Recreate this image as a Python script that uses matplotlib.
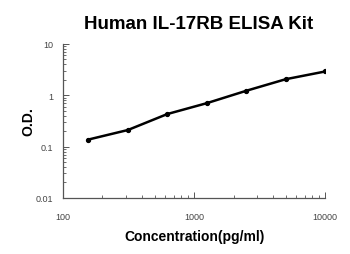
import matplotlib
matplotlib.use('Agg')
import matplotlib.pyplot as plt
from matplotlib.ticker import LogLocator, NullFormatter, FixedLocator

# standard curve values
conc = [156.25, 312.5, 625, 1250, 2500, 5000, 10000]
od = [0.137, 0.21, 0.43, 0.70, 1.22, 2.05, 2.9]

x_ticks = [100, 1000, 10000]
x_tick_labels = ['100', '1000', '10000']
y_ticks = [0.01, 0.1, 1, 10]
y_tick_labels = ['0.01', '0.1', '1', '10']

plt.rcParams['font.family'] = ['Liberation Sans', 'DejaVu Sans']

fig = plt.figure(figsize=(3.5, 2.55), dpi=100)
ax = fig.add_axes([0.18, 0.22, 0.749, 0.604])

ax.plot(conc, od, color='black', linewidth=1.8, marker='o', markersize=2.8)

ax.set_xscale('log')
ax.set_yscale('log')
ax.set_xlim(100, 10000)
ax.set_ylim(0.01, 10)

ax.xaxis.set_major_locator(FixedLocator(x_ticks))
ax.set_xticklabels(x_tick_labels)
ax.yaxis.set_major_locator(FixedLocator(y_ticks))
ax.set_yticklabels(y_tick_labels)
ax.xaxis.set_minor_locator(LogLocator(base=10, subs=range(2, 10)))
ax.yaxis.set_minor_locator(LogLocator(base=10, subs=range(2, 10)))
ax.xaxis.set_minor_formatter(NullFormatter())
ax.yaxis.set_minor_formatter(NullFormatter())

for side in ['top', 'right']:
    ax.spines[side].set_visible(False)
for side in ['left', 'bottom']:
    ax.spines[side].set_color('#555555')
    ax.spines[side].set_linewidth(0.9)

ax.tick_params(which='major', direction='in', length=4, width=0.7, color='#555555',
               labelsize=6.5, labelcolor='#444444')
ax.tick_params(axis='y', which='major', pad=7)
ax.tick_params(axis='x', which='major', pad=10)
ax.tick_params(which='minor', direction='in', length=2.5, width=0.6, color='#555555')

fig.text(0.567, 0.905, 'Human IL-17RB ELISA Kit', fontsize=13.5, fontweight='bold',
         ha='center', va='center')
ax.set_xlabel('Concentration(pg/ml)', fontsize=10, fontweight='bold', labelpad=6)
ax.set_ylabel('O.D.', fontsize=10, fontweight='bold', labelpad=0)

fig.savefig('out.png', dpi=100)
